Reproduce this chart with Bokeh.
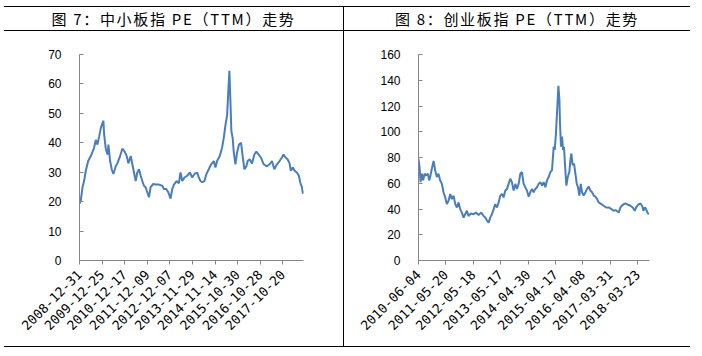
import math
from bokeh.plotting import figure
from bokeh.layouts import row, column
from bokeh.models import Div, FixedTicker, Range1d
from bokeh.embed import file_html
from bokeh.resources import INLINE

left_title = "图 7：中小板指 PE（TTM）走势"
right_title = "图 8：创业板指 PE（TTM）走势"

left_tick_labels = ["2008-12-31", "2009-12-25", "2010-12-17", "2011-12-09", "2012-12-07",
                    "2013-11-29", "2014-11-14", "2015-10-30", "2016-10-28", "2017-10-20"]
right_tick_labels = ["2010-06-04", "2011-05-20", "2012-05-18", "2013-05-17", "2014-04-30",
                     "2015-04-17", "2016-04-08", "2017-03-31", "2018-03-23"]

# trading-day index (approx.) and PE values
left_days = [0, 14, 32, 49, 67, 92, 120, 155, 173, 191, 208, 226, 244, 254, 261, 279, 297, 307, 325, 342,
             360, 385, 402, 431, 455, 480, 501, 519, 544, 561, 579, 597, 614, 632, 650, 667, 685, 702, 720, 738,
             755, 784, 808, 844, 879, 897, 921, 943, 967, 985, 1003, 1031, 1055, 1073, 1091, 1115, 1144, 1172, 1197, 1221,
             1250, 1267, 1285, 1303, 1327, 1348, 1373, 1398, 1426, 1444, 1461, 1490, 1514, 1532, 1550, 1568, 1581, 1592, 1603, 1613,
             1627, 1638, 1656, 1673, 1694, 1716, 1733, 1751, 1772, 1786, 1807, 1832, 1857, 1878, 1903, 1927, 1956, 1991, 2019, 2044,
             2069, 2097, 2125, 2150, 2167, 2189, 2210, 2231, 2245, 2266, 2284, 2309, 2330, 2344, 2362, 2372, 2379]
left_pe = [19.3, 20.4, 24.9, 27.0, 30.5, 33.8, 35.5, 38.3, 41.0, 39.4, 42.0, 45.0, 46.7, 47.5, 43.0, 38.0, 36.0, 39.4, 33.8, 31.0,
           29.4, 32.0, 33.0, 35.5, 38.0, 37.0, 35.5, 33.0, 35.5, 32.7, 29.9, 27.0, 29.9, 31.0, 28.8, 27.0, 25.4, 24.9, 23.2, 21.5,
           24.9, 26.0, 25.8, 25.8, 25.4, 24.3, 24.3, 23.2, 21.0, 24.3, 25.8, 27.0, 26.2, 29.9, 27.0, 28.2, 28.8, 29.9, 28.2, 29.4,
           29.9, 28.2, 27.0, 26.6, 27.0, 29.4, 31.0, 32.7, 33.8, 31.6, 33.8, 35.5, 38.3, 41.6, 46.0, 49.4, 58.0, 64.5, 54.0, 43.9,
           41.6, 37.0, 32.7, 36.6, 39.4, 40.0, 35.5, 31.0, 32.0, 33.8, 34.4, 33.0, 36.0, 37.0, 36.0, 35.0, 32.7, 32.0, 32.7, 33.8,
           31.0, 32.7, 33.8, 35.0, 36.0, 35.0, 34.4, 33.0, 30.5, 31.6, 30.5, 29.9, 28.8, 26.6, 24.9, 22.7, 23.8]

right_days = [0, 9, 18, 29, 41, 53, 64, 82, 94, 105, 117, 132, 146, 161, 175, 190, 205, 219, 234, 248,
              263, 278, 292, 307, 322, 336, 351, 365, 380, 395, 409, 424, 438, 459, 482, 503, 526, 550, 570, 585,
              599, 614, 628, 643, 658, 672, 687, 702, 716, 731, 745, 760, 775, 789, 804, 818, 833, 848, 862, 877,
              892, 906, 921, 935, 950, 965, 979, 994, 1008, 1023, 1038, 1052, 1067, 1082, 1096, 1111, 1125, 1140, 1155, 1169,
              1184, 1193, 1204, 1216, 1225, 1234, 1239, 1248, 1257, 1266, 1274, 1286, 1295, 1307, 1321, 1330, 1339, 1350, 1362, 1374,
              1386, 1397, 1409, 1421, 1432, 1447, 1462, 1476, 1491, 1505, 1520, 1535, 1549, 1564, 1578, 1602, 1622, 1643, 1666, 1690,
              1710, 1730, 1754, 1768, 1789, 1812, 1836, 1856, 1876, 1894, 1906, 1923, 1944, 1958, 1970, 1982, 1993, 2005, 2017]
right_pe = [79, 72.7, 60.9, 67.4, 62.2, 67.4, 66.1, 67.4, 62.2, 66.1, 71.3, 77.4, 70, 64.8, 67.4, 62.2, 59.5, 53, 49, 43.8,
            46.4, 51.7, 47.7, 50.4, 43.8, 41.2, 45.1, 39.9, 37.2, 33.3, 35.9, 38.6, 34.6, 36.5, 35.9, 37.2, 35.4, 37.2, 34.6, 33.3,
            31.2, 29.4, 33.3, 35.9, 39.9, 43.8, 41.2, 45.1, 50.4, 51.7, 49, 54.3, 55.6, 59.5, 63.5, 60.9, 54.3, 59.5, 55.6, 59.5,
            67.4, 68.7, 59.5, 56.9, 54.3, 49.6, 53, 55.6, 53, 55.6, 56.9, 59.5, 60.9, 58.2, 60.9, 56.9, 62.2, 64.8, 68.7, 70,
            88.4, 85.8, 98.9, 119.9, 135.6, 125.1, 106.8, 88.4, 96.3, 85.8, 88.4, 70, 58.2, 64.8, 68.7, 77.9, 83.1, 74, 75.3, 67.4,
            59.5, 56.9, 50.4, 59.5, 53, 50.4, 53, 55.6, 57.4, 54.3, 53, 50.4, 49.6, 47.7, 45.1, 43.8, 42.5, 41.2, 41.2, 39.9,
            38.6, 39.1, 37.2, 41.2, 43.3, 44.3, 43.3, 42.5, 41.2, 38.6, 41.2, 43.3, 44.3, 42.5, 38.6, 41.2, 39.9, 37.2, 35.9]

LINE_COLOR = "#4A7EBB"
AXIS_COLOR = "#868686"


def make_panel(days, pe, labels, x_end, y_max, y_step, bl, fw, br, bt, fh, bb):
    p = figure(frame_width=fw, frame_height=fh, min_border_left=bl, min_border_right=br,
               min_border_top=bt, min_border_bottom=bb, output_backend="svg",
               toolbar_location=None, x_range=Range1d(0, x_end), y_range=Range1d(0, y_max),
               margin=0)
    p.line(days, pe, line_color=LINE_COLOR, line_width=2)
    p.xgrid.visible = False
    p.ygrid.visible = False
    p.outline_line_color = None
    p.background_fill_color = "white"
    p.border_fill_color = "white"

    ticks = [240 * i for i in range(len(labels))]
    xa = p.xaxis[0]
    xa.ticker = FixedTicker(ticks=ticks)
    xa.major_label_overrides = {t: lab for t, lab in zip(ticks, labels)}
    xa.major_label_orientation = math.pi / 4
    xa.major_tick_in = 0
    xa.major_tick_out = 4
    xa.minor_tick_line_color = None
    xa.axis_line_color = AXIS_COLOR
    xa.major_tick_line_color = AXIS_COLOR
    xa.major_label_text_font = "DejaVu Sans Mono"
    xa.major_label_text_font_size = "13px"
    xa.major_label_text_color = "#000000"
    xa.major_label_standoff = 8

    ya = p.yaxis[0]
    ya.ticker = FixedTicker(ticks=list(range(0, y_max + 1, y_step)))
    ya.major_tick_in = 4
    ya.major_tick_out = 0
    ya.minor_tick_line_color = None
    ya.axis_line_color = AXIS_COLOR
    ya.major_tick_line_color = AXIS_COLOR
    ya.major_label_text_font = "Liberation Sans"
    ya.major_label_text_font_size = "12px"
    ya.major_label_text_color = "#000000"
    ya.major_label_standoff = 18
    return p


def title_div(text, w):
    return Div(text=text, width=w, height=23, margin=0,
               styles={"font-family": "Noto Sans CJK SC", "font-size": "15px", "text-align": "center",
                       "line-height": "23px", "color": "#000000", "letter-spacing": "1.7px",
                       "white-space": "nowrap", "overflow": "hidden"})


def hline(w):
    return Div(text="", width=w, height=1, margin=0,
               styles={"background-color": "#000000", "overflow": "hidden"})


def vline(h):
    return Div(text="", width=1, height=h, margin=0,
               styles={"background-color": "#000000", "overflow": "hidden"})


p1 = make_panel(left_days, left_pe, left_tick_labels, 2379, 70, 10, 75, 224, 40, 23, 206, 86)
p2 = make_panel(right_days, right_pe, right_tick_labels, 2023, 160, 20, 74, 231, 41, 23, 206, 86)

layout = column(
    hline(686),
    row(title_div(left_title, 339), vline(23), title_div(right_title, 346), margin=0, spacing=0),
    hline(686),
    row(p1, vline(315), p2, margin=0, spacing=0),
    hline(686),
    margin=(6, 0, 0, 4), spacing=0,
)

open("out.html", "w").write(file_html(layout, INLINE))
